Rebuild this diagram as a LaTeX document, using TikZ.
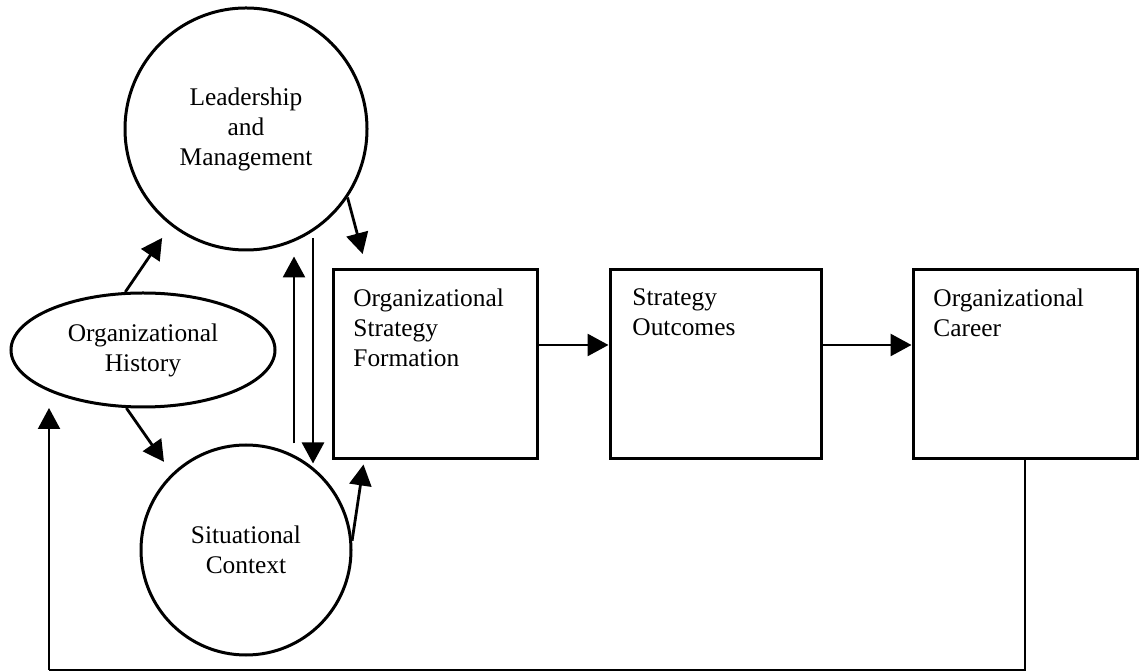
\documentclass[tikz,border=0pt]{standalone}
\usepackage{fontspec}
\setmainfont{Liberation Serif}
\usetikzlibrary{arrows.meta,shapes.geometric}
\begin{document}
\begin{tikzpicture}[x=0.5pt,y=-0.5pt,
  txt/.style={font=\fontsize{12.7pt}{15pt}\selectfont},
  roundnode/.style={circle,draw,line width=1.5pt,inner sep=0pt,align=center,txt},
  ovalnode/.style={ellipse,draw,line width=1.5pt,inner sep=0pt,align=center,txt,
    minimum width=132pt,minimum height=57pt},
  stagebox/.style={rectangle,draw,line width=1.5pt,inner sep=0pt,minimum height=94.5pt},
  boxlabel/.style={anchor=north west,inner sep=0pt,align=left,txt},
  link/.style={line width=1.4pt,-{Triangle[length=10.5pt,width=11pt]}},
  loopline/.style={line width=1.1pt}]
\useasboundingbox (0,0) rectangle (1139,672);

% influences on strategy formation
\node[roundnode,minimum size=121pt] (lm) at (246,129) {Leadership\\and\\Management};
\node[ovalnode] (oh) at (143,350) {Organizational\\History};
\node[roundnode,minimum size=105pt] (sc) at (246,550) {Situational\\Context};

% main chain of boxes
\node[stagebox,minimum width=102pt] (sf) at (435,364.5) {};
\node[stagebox,minimum width=105.5pt] (so) at (715.5,364.5) {};
\node[stagebox,minimum width=112pt] (oc) at (1025,364.5) {};
\node[boxlabel] (sft) at (353,288) {Organizational\\Strategy\\Formation};
\node[boxlabel] (sot) at (632,288) {Strategy\\Outcomes};
\node[boxlabel] (oct) at (933,288) {Organizational\\Career};

% history feeds leadership and context
\draw[link,shorten >=7.5pt] (oh.107.5) -- (lm.232);
\draw[link,shorten >=7pt] (oh.254) -- (sc.134);

% leadership and context feed strategy formation
\draw[link,shorten >=7.5pt] (lm.326.3) -- ([xshift=17.5pt]sf.north west);
\draw[link] (sc.5.5) -- ([shift={(16pt,-2pt)}]sf.south west);

% two-way exchange between leadership and context
\draw[link] ([xshift=24pt]sc.north) -- ([shift={(24pt,-2.5pt)}]lm.south);
\draw[link] ([shift={(33.5pt,6.5pt)}]lm.south) -- ([shift={(33.5pt,-10pt)}]sc.north);

% chain arrows
\draw[link] ([yshift=9.75pt]sf.east) -- ([yshift=9.75pt]sf.east -| so.west);
\draw[link] ([yshift=9.75pt]so.east) -- ([yshift=9.75pt]so.east -| oc.west);

% feedback loop from career back to history
\coordinate (fbl) at (49,670);
\coordinate (fbt) at (49,408);
\draw[loopline] (oc.south) |- (fbl);
\draw[loopline,-{Triangle[length=10.5pt,width=11pt]}] (fbl) -- (fbt);
\end{tikzpicture}
\end{document}
